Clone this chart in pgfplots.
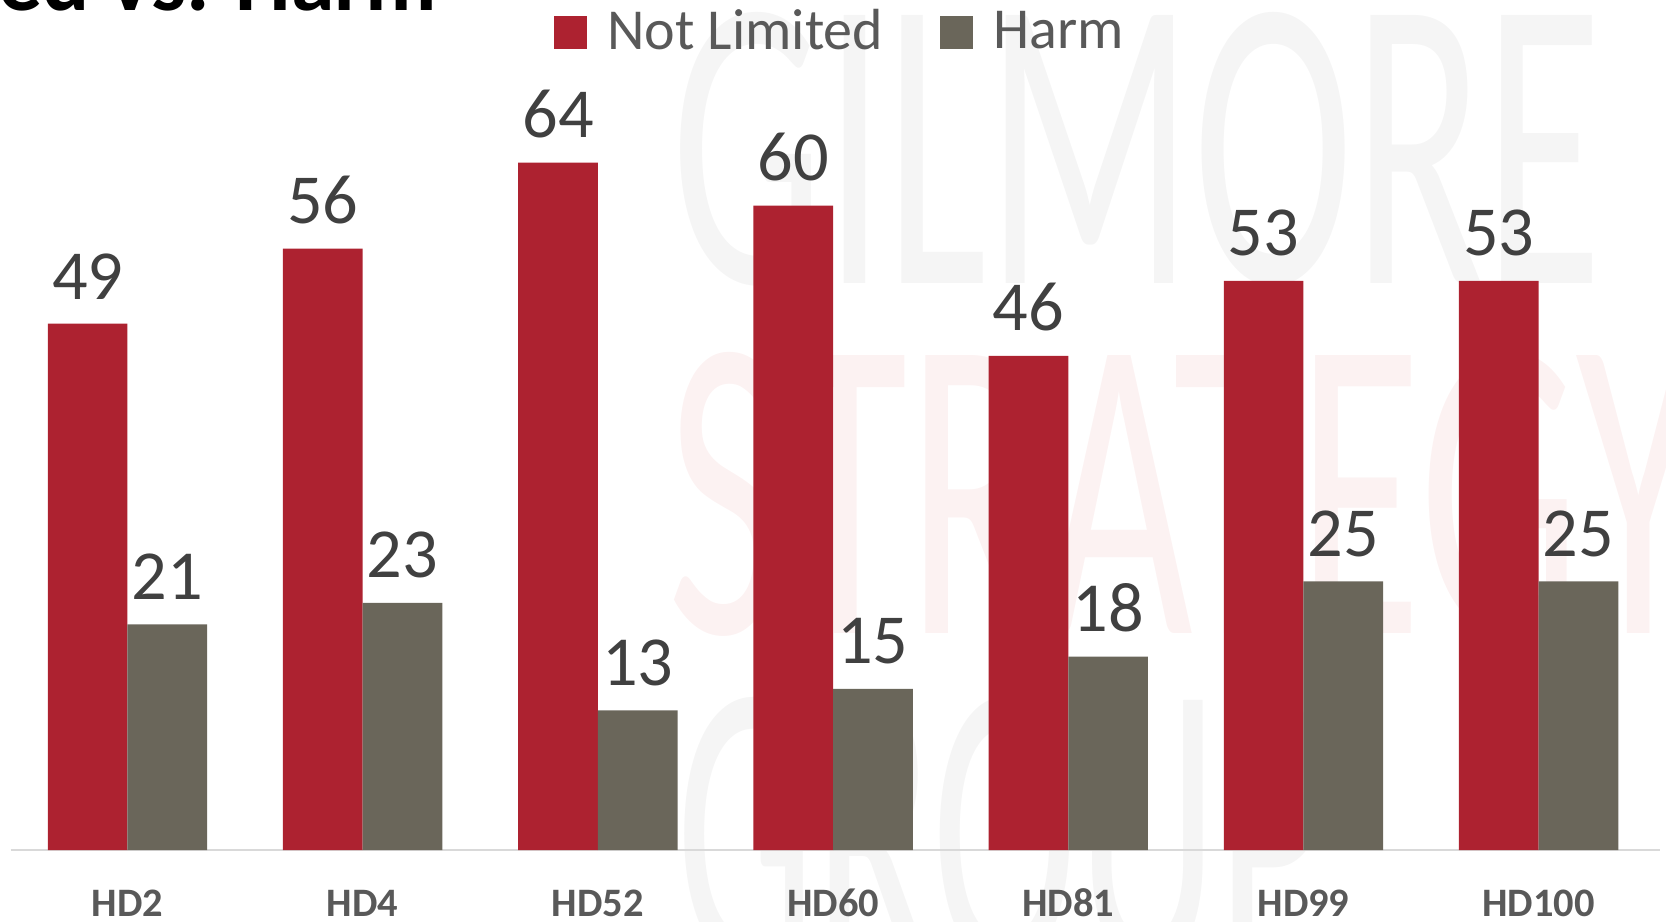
\documentclass[border=0pt]{standalone}
\usepackage{pgfplots}
\pgfplotsset{compat=1.18}
\usepackage{fontspec}
\setmainfont{Carlito}
\definecolor{nlred}{HTML}{AD2230}
\definecolor{harmgrey}{HTML}{6A665A}
\definecolor{lblgrey}{HTML}{404040}
\definecolor{tickgrey}{HTML}{595959}
\definecolor{wmgrey}{HTML}{F5F5F5}
\definecolor{wmpink}{HTML}{FCF2F2}
\begin{document}
\begin{tikzpicture}
\useasboundingbox (0,0) rectangle (166.6mm,92.1mm);
% faint watermark
\node[anchor=south west, inner sep=0pt] at (67.1mm,63.4mm) {\color{wmgrey}\resizebox{93.1mm}{27.1mm}{GILMORE}};
\node[anchor=south west, inner sep=0pt] at (66.7mm,28.4mm) {\color{wmpink}\resizebox{103.3mm}{28.1mm}{STRATEGY}};
\node[anchor=south west, inner sep=0pt] at (67.6mm,-5.0mm) {\color{wmgrey}\resizebox{65.4mm}{27.0mm}{GROUP}};
% cut-off title
\node[anchor=base east, inner sep=0pt] at (43.8mm,91.0mm) {\bfseries\fontsize{25}{30}\selectfont Not Limited vs. Harm};
\begin{axis}[
  at={(1.06mm,7.1mm)}, anchor=south west,
  scale only axis,
  width=164.94mm, height=85mm,
  ybar=0pt, bar width=7.97mm,
  xmin=-0.497, xmax=6.516,
  ymin=0, ymax=79.14,
  axis x line*=bottom,
  axis y line=none,
  x axis line style={draw=black!15, line width=0.25mm, -},
  xtick=data,
  xticklabels={HD2,HD4,HD52,HD60,HD81,HD99,HD100},
  major tick length=0pt,
  xticklabel style={font=\bfseries\fontsize{11.5}{13}\selectfont, text=tickgrey, anchor=base, inner sep=0pt, yshift=-6.6mm},
  ytick=\empty,
  /pgf/number format/assume math mode=true,
  nodes near coords,
  every node near coord/.append style={font=\fontsize{20}{24}\selectfont, text=lblgrey, anchor=south, inner sep=0pt, yshift=2.4mm},
  legend columns=2,
  legend style={at={(54.3mm,92.1mm-7.1mm-3.25mm)}, anchor=west, draw=none, fill=none, inner sep=0pt, row sep=0pt,
    font=\fontsize{16.5}{20}\selectfont, text=tickgrey,
    /tikz/every odd column/.append style={column sep=1.3mm},
    /tikz/every even column/.append style={column sep=5.0mm}},
  legend image code/.code={\fill[#1] (0mm,-1.65mm) rectangle (3.3mm,1.65mm);},
  clip=false,
]
\addplot[fill=nlred, draw=none] coordinates {(0,49) (1,56) (2,64) (3,60) (4,46) (5,53) (6,53)};
\addplot[fill=harmgrey, draw=none] coordinates {(0,21) (1,23) (2,13) (3,15) (4,18) (5,25) (6,25)};
\legend{Not Limited, Harm}
\end{axis}
\end{tikzpicture}
\end{document}
